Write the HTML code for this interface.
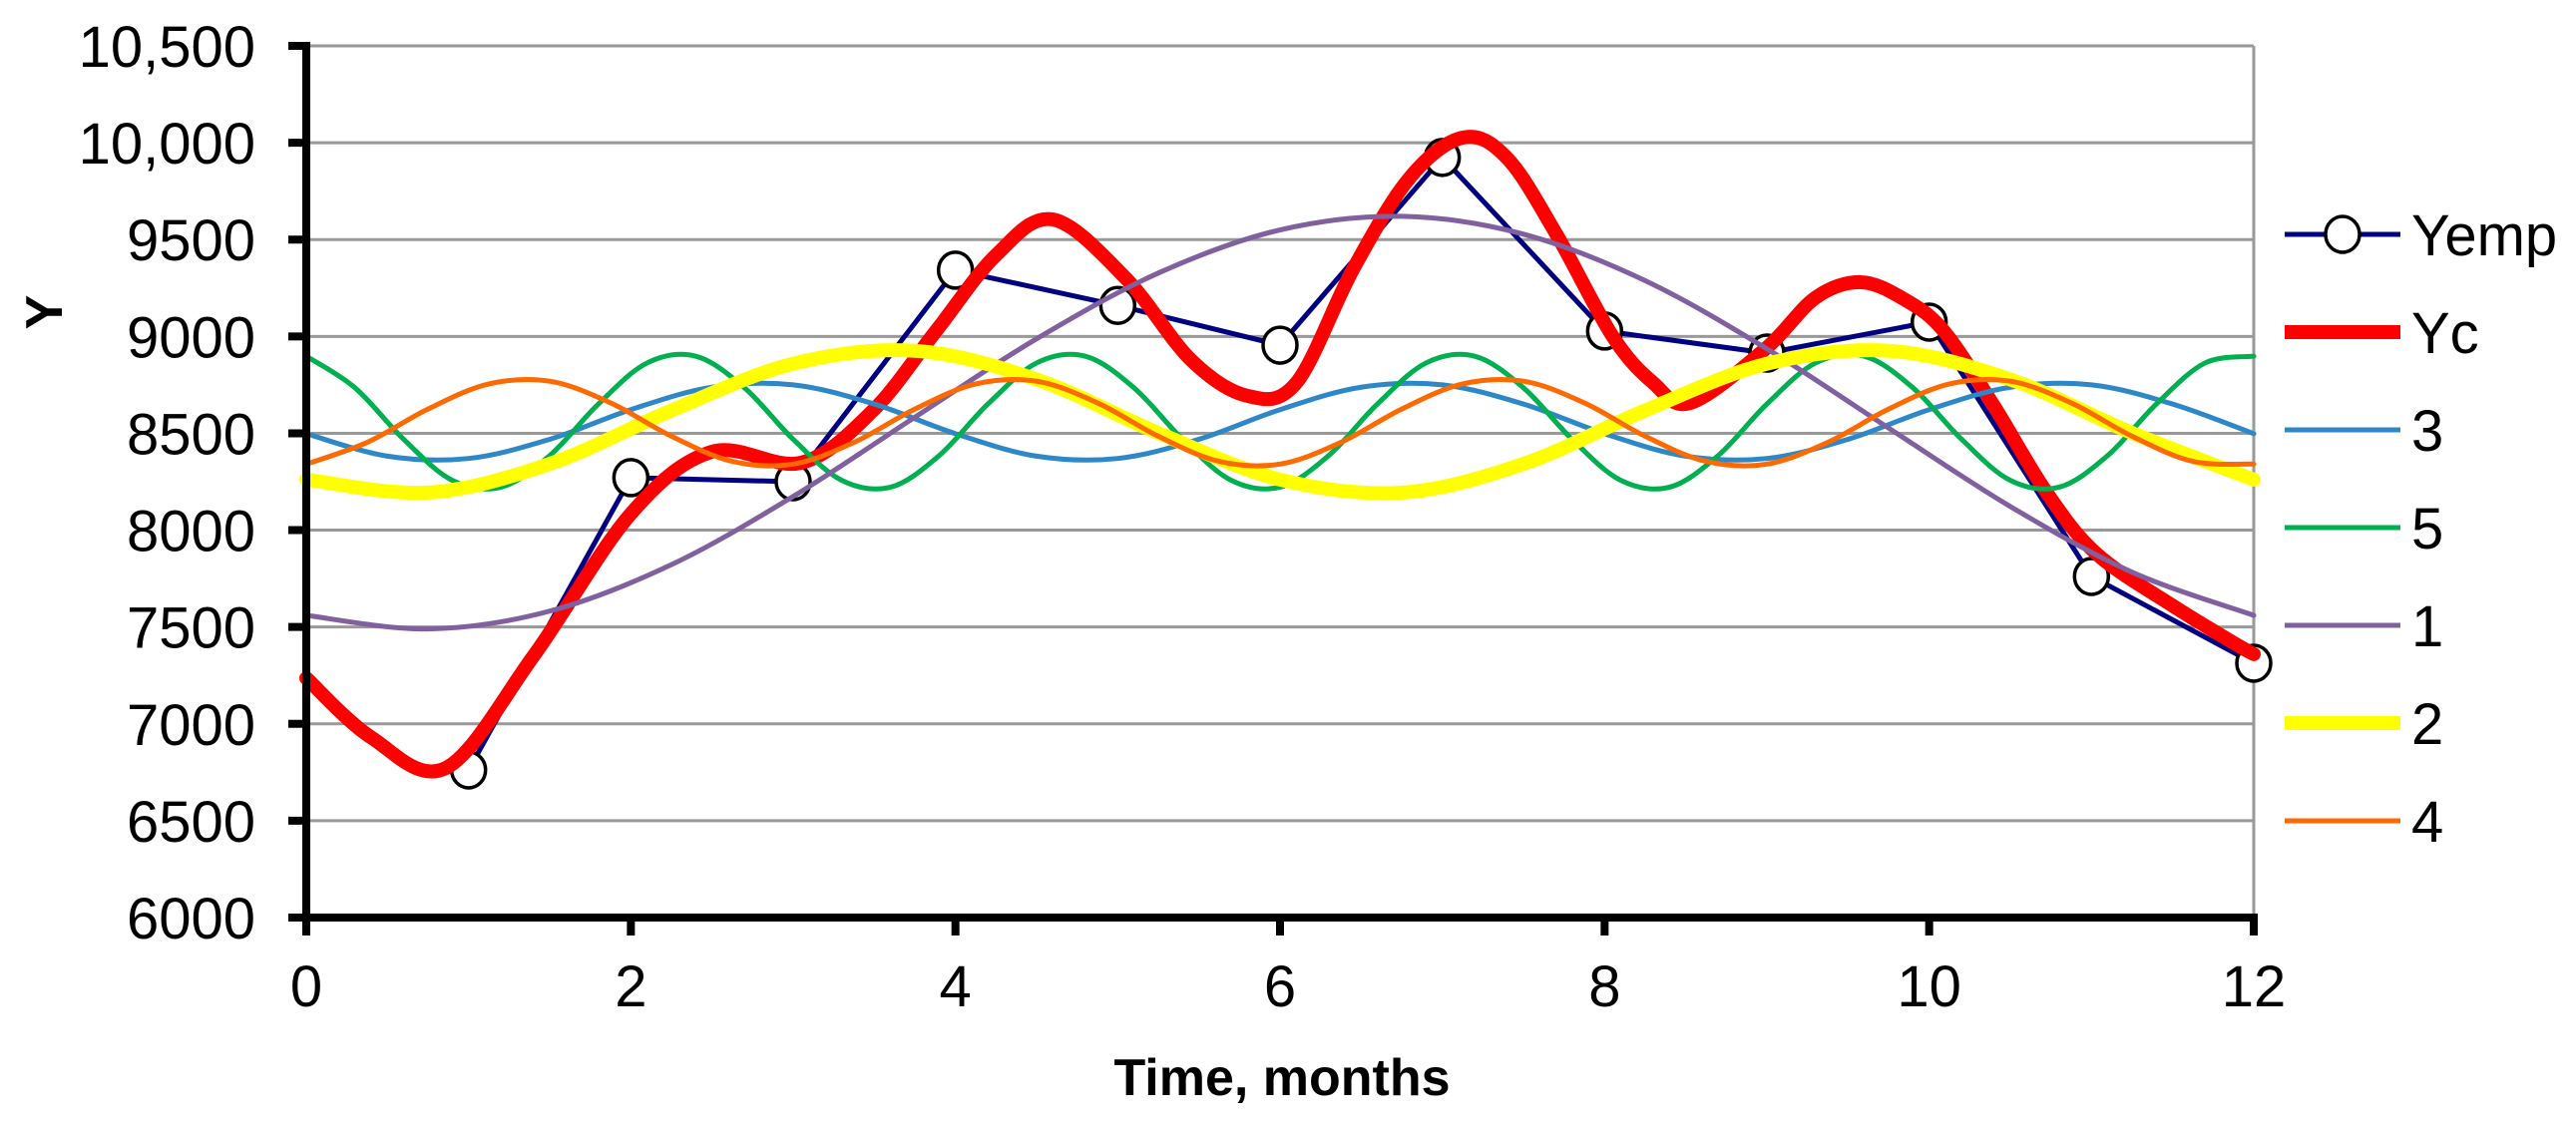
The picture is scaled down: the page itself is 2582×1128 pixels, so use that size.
<!DOCTYPE html>
<html><head><meta charset="utf-8"><style>
html,body{margin:0;padding:0;background:#fff;}
svg{display:block;font-family:"Liberation Sans",Arial,sans-serif;}
</style></head><body>
<svg id="chart" width="2582" height="1128" viewBox="0 0 2582 1128" xmlns="http://www.w3.org/2000/svg">
<g id="grid"></g>
<g id="series"></g>
<g id="axes"></g>
<g id="legend"></g>
<text x="1285" y="1098" text-anchor="middle" font-size="52" font-weight="bold">Time, months</text>
<text x="0" y="0" transform="translate(62,313) rotate(-90)" text-anchor="middle" font-size="52" font-weight="bold">Y</text>
</svg>
<script>
const xTicks=[0,2,4,6,8,10,12];
const yTicks=[6000,6500,7000,7500,8000,8500,9000,9500,10000,10500];
const yTickLabels=["6000","6500","7000","7500","8000","8500","9000","9500","10,000","10,500"];
const yempX=[1,2,3,4,5,6,7,8,9,10,11,12];
const yempY=[6762,8271,8250,9342,9160,8955,9924,9028,8914,9074,7761,7313];
const ycX=[0,0.4,0.86,1.4,2,2.5,3.05,3.49,3.88,4.25,4.6,5.05,5.45,5.8,6.1,6.45,6.8,7.13,7.4,7.7,8.05,8.3,8.53,8.99,9.3,9.58,9.85,10.09,10.4,10.72,11.03,11.5,11.9,12];
const ycY=[7236,6930,6772,7350,8085,8405,8348,8616,9028,9420,9604,9300,8880,8693,8760,9347,9820,10027,9920,9532,9000,8760,8657,8935,9200,9280,9190,9028,8640,8199,7879,7610,7406,7360];
const s3X=[0,0.5,1,1.5,2,2.5,3,3.5,4,4.5,5,5.5,6,6.5,7,7.5,8,8.5,9,9.5,10,10.5,11,11.5,12];
const s3Y=[8498,8382,8370,8469,8622,8738,8750,8651,8498,8382,8370,8469,8622,8738,8750,8651,8498,8382,8370,8469,8622,8738,8750,8651,8498];
const s5X=[0,0.3,0.6,0.9,1.2,1.5,1.8,2.1,2.4,2.7,3,3.3,3.6,3.9,4.2,4.5,4.8,5.1,5.4,5.7,6,6.3,6.6,6.9,7.2,7.5,7.8,8.1,8.4,8.7,9,9.3,9.6,9.9,10.2,10.5,10.8,11.1,11.4,11.7,12];
const s5Y=[8898,8735,8469,8257,8222,8385,8651,8863,8898,8735,8469,8257,8222,8385,8651,8863,8898,8735,8469,8257,8222,8385,8651,8863,8898,8735,8469,8257,8222,8385,8651,8863,8898,8735,8469,8257,8222,8385,8651,8863,8898];
const s1X=[0,0.75,1.5,2.25,3,3.75,4.5,5.25,6,6.75,7.5,8.25,9,9.75,10.5,11.25,12];
const s1Y=[7560,7490,7582,7822,8174,8583,8988,9327,9550,9620,9528,9288,8936,8527,8122,7783,7560];
const s2X=[0,0.75,1.5,2.25,3,3.75,4.5,5.25,6,6.75,7.5,8.25,9,9.75,10.5,11.25,12];
const s2Y=[8261,8194,8342,8618,8859,8926,8778,8502,8261,8194,8342,8618,8859,8926,8778,8502,8261];
const s4X=[0,0.375,0.75,1.125,1.5,1.875,2.25,2.625,3,3.375,3.75,4.125,4.5,4.875,5.25,5.625,6,6.375,6.75,7.125,7.5,7.875,8.25,8.625,9,9.375,9.75,10.125,10.5,10.875,11.25,11.625,12];
const s4Y=[8341,8453,8625,8755,8769,8657,8485,8355,8341,8453,8625,8755,8769,8657,8485,8355,8341,8453,8625,8755,8769,8657,8485,8355,8341,8453,8625,8755,8769,8657,8485,8355,8341];

const L=307,R=2259,T=46,B=920,X0=0,X1=12,Y0=6000,Y1=10500;
const sx=v=>L+(v-X0)/(X1-X0)*(R-L);
const sy=v=>B-(v-Y0)/(Y1-Y0)*(B-T);
const NS="http://www.w3.org/2000/svg";
function mk(tag,attrs,parent){const e=document.createElementNS(NS,tag);for(const k in attrs)e.setAttribute(k,attrs[k]);parent.appendChild(e);return e;}
const grid=document.getElementById('grid'),axes=document.getElementById('axes'),ser=document.getElementById('series'),leg=document.getElementById('legend');

yTicks.forEach((v,i)=>{
  if(i>0){const g=mk('line',{x1:L,x2:R,y1:sy(v),y2:sy(v),stroke:'#999',"stroke-width":3},grid);
  
  }
  const t=mk('line',{x1:289,x2:L,y1:sy(v),y2:sy(v),stroke:'#000',"stroke-width":8},axes);
  
  
  const tx=mk('text',{x:256,y:sy(v)+21,"text-anchor":"end","font-size":58},axes);
  tx.textContent=yTickLabels[i];
  
  
});
const rb=mk('line',{x1:R,x2:R,y1:T,y2:B,stroke:'#999',"stroke-width":3},grid);



function smooth(xs,ys){
  const p=xs.map((x,i)=>[sx(x),sy(ys[i])]);
  let d=`M${p[0][0]},${p[0][1]}`;
  for(let i=0;i<p.length-1;i++){
    const p0=p[Math.max(0,i-1)],p1=p[i],p2=p[i+1],p3=p[Math.min(p.length-1,i+2)];
    const c1=[p1[0]+(p2[0]-p0[0])/6,p1[1]+(p2[1]-p0[1])/6];
    const c2=[p2[0]-(p3[0]-p1[0])/6,p2[1]-(p3[1]-p1[1])/6];
    d+=`C${c1[0]},${c1[1]} ${c2[0]},${c2[1]} ${p2[0]},${p2[1]}`;
  }
  return d;
}
function poly(xs,ys){return xs.map((x,i)=>(i?'L':'M')+sx(x)+','+sy(ys[i])).join('');}

const ye=mk('path',{d:poly(yempX,yempY),fill:'none',stroke:'#000080',"stroke-width":5,"stroke-linejoin":"round"},ser);


yempX.forEach((x,i)=>{
  const c=mk('ellipse',{cx:sx(x),cy:sy(yempY[i]),rx:17,ry:18,fill:'#fff',stroke:'#000',"stroke-width":3.5},ser);
  
  
});
const specs=[
  [ycX,ycY,'#ff0000',14,'series-yc'],
  [s3X,s3Y,'#2e88c8',5,'series-3'],
  [s5X,s5Y,'#00b050',5,'series-5'],
  [s1X,s1Y,'#80609f',5,'series-1'],
  [s2X,s2Y,'#ffff00',14,'series-2'],
  [s4X,s4Y,'#ff6a00',5,'series-4']
];
specs.forEach(s=>{
  const p=mk('path',{d:smooth(s[0],s[1]),fill:'none',stroke:s[2],"stroke-width":s[3],"stroke-linecap":"round"},ser);
  
  
});

const ya=mk('line',{x1:L,x2:L,y1:T-4,y2:B+4,stroke:'#000',"stroke-width":8},axes);


const xa=mk('line',{x1:L-4,x2:R+4,y1:B,y2:B,stroke:'#000',"stroke-width":8},axes);


xTicks.forEach(v=>{
  const t=mk('line',{x1:sx(v),x2:sx(v),y1:B,y2:B+18,stroke:'#000',"stroke-width":8},axes);
  
  
  const tx=mk('text',{x:sx(v),y:1009,"text-anchor":"middle","font-size":58},axes);
  tx.textContent=String(v);
  
  
});

const legItems=[['Yemp','#000080',5],['Yc','#ff0000',14],['3','#2e88c8',5],['5','#00b050',5],['1','#80609f',5],['2','#ffff00',14],['4','#ff6a00',5]];
legItems.forEach((it,i)=>{
  const y=235+i*98;
  const g=mk('g',{},leg);
  
  
  mk('line',{x1:2290,x2:2406,y1:y,y2:y,stroke:it[1],"stroke-width":it[2]},g);
  if(i===0){mk('ellipse',{cx:2348,cy:y,rx:17,ry:18,fill:'#fff',stroke:'#000',"stroke-width":3.5},g);}
  const t=mk('text',{x:2417,y:y+21,"font-size":58},g);
  t.textContent=it[0];
});
</script>
</body></html>
